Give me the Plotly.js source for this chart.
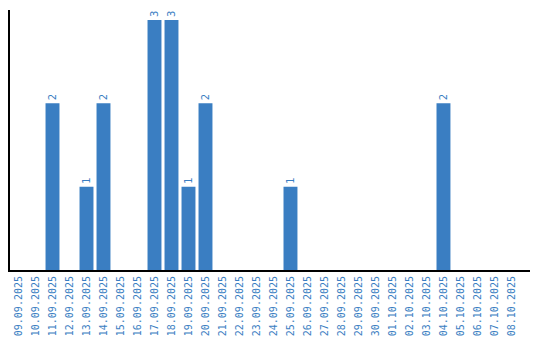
<!DOCTYPE html>
<html><head><meta charset="utf-8">
<script src="https://cdn.plot.ly/plotly-3.0.1.min.js"></script>
<style>html,body{margin:0;padding:0;background:#fff}#c{width:540px;height:340px}</style>
</head><body><div id="c"></div>
<script>
const dates = ["09.09.2025","10.09.2025","11.09.2025","12.09.2025","13.09.2025","14.09.2025","15.09.2025","16.09.2025","17.09.2025","18.09.2025","19.09.2025","20.09.2025","21.09.2025","22.09.2025","23.09.2025","24.09.2025","25.09.2025","26.09.2025","27.09.2025","28.09.2025","29.09.2025","30.09.2025","01.10.2025","02.10.2025","03.10.2025","04.10.2025","05.10.2025","06.10.2025","07.10.2025","08.10.2025"];
const counts = [0,0,2,0,1,2,0,0,3,3,1,2,0,0,0,0,1,0,0,0,0,0,0,0,0,2,0,0,0,0];
const labels = counts.map(v => v > 0 ? String(v) : "");
const blue = "#3a7ec2";
Plotly.newPlot("c", [{
  type: "bar", x: dates, y: counts, text: labels, textposition: "outside",
  textangle: -90, cliponaxis: false, texttemplate: "%{text}",
  textfont: {family: "DejaVu Sans", size: 10, color: blue},
  marker: {color: blue}, hoverinfo: "none"
}], {
  width: 540, height: 340, margin: {l: 10, r: 10, t: 10, b: 70},
  paper_bgcolor: "#fff", plot_bgcolor: "#fff", showlegend: false, bargap: 0.18,
  xaxis: {type: "category", range: [-0.5, 30.09], showline: true, linecolor: "#000", linewidth: 2,
    showgrid: false, zeroline: false, ticks: "", tickangle: -90,
    tickfont: {family: "DejaVu Sans Mono", size: 10, color: blue}},
  yaxis: {range: [0, 3.12], showline: true, linecolor: "#000", linewidth: 2, showgrid: false,
    zeroline: false, showticklabels: false, ticks: ""}
}, {displayModeBar: false, staticPlot: true});
</script></body></html>
